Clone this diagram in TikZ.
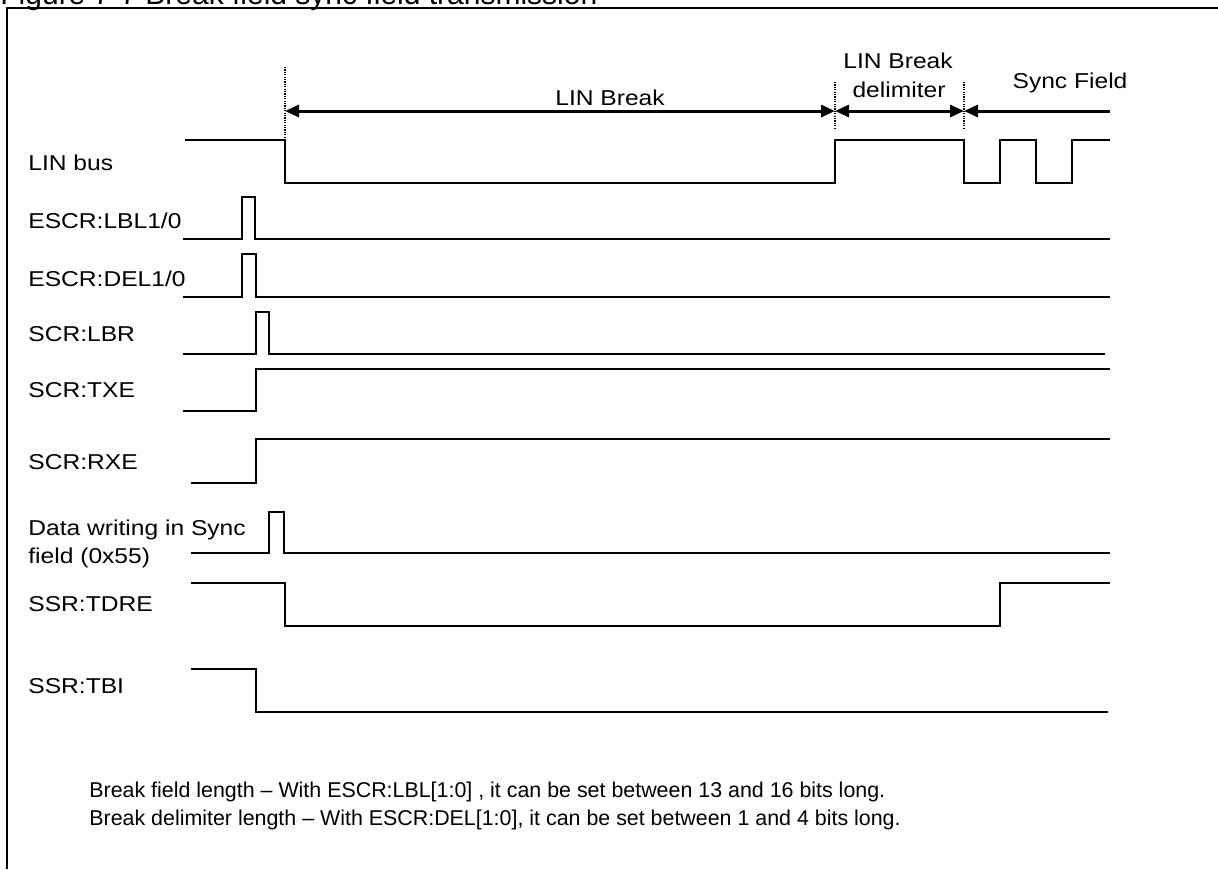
\documentclass[tikz,border=0pt]{standalone}
\usepackage{fontspec}
\setmainfont{Liberation Sans}
\usepackage{graphicx}
\usetikzlibrary{arrows.meta}
\newcommand\wlab[1]{\scalebox{1.144}[1]{#1}}
\begin{document}
\begin{tikzpicture}[x=0.5pt,y=-0.5pt,
  sig/.style={line width=0.75pt, line join=miter},
  frameline/.style={line width=1pt},
  lab/.style={anchor=base west, inner sep=0pt, font=\fontsize{10.75}{14}\selectfont},
  toplab/.style={anchor=base, inner sep=0pt, font=\fontsize{10.75}{14}\selectfont},
  note/.style={anchor=base west, inner sep=0pt, font=\fontsize{10.7}{14}\selectfont},
  dim/.style={line width=1.5pt, >={Triangle[length=7pt,width=6pt]}},
  marker/.style={line width=0.8pt, dash pattern=on 0.6pt off 0.6pt}
]
\useasboundingbox (0,0) rectangle (1218,869);
% title (cut off at the top edge, as in the reference)
\node[anchor=base west, inner sep=0pt, font=\fontsize{15}{18}\selectfont] (title) at (0,4) {Figure 7-7 Break field sync field transmission};
% frame
\coordinate (fbl) at (7,869);
\coordinate (ftl) at (7,8);
\coordinate (ftr) at (1218,8);
\draw[frameline] (fbl) -- (ftl) -- (ftr);

% signal labels
\node[lab] (l1) at (28,170) {\wlab{LIN bus}};
\node[lab] (l2) at (28,228) {\wlab{ESCR:LBL1/0}};
\node[lab] (l3) at (28,286) {\wlab{ESCR:DEL1/0}};
\node[lab] (l4) at (28,341) {\wlab{SCR:LBR}};
\node[lab] (l5) at (28,397) {\wlab{SCR:TXE}};
\node[lab] (l6) at (28,469) {\wlab{SCR:RXE}};
\node[lab] (l7a) at (28,535) {\wlab{Data writing in Sync}};
\node[lab] (l7b) at (28,563) {\wlab{field (0x55)}};
\node[lab] (l8) at (28,611) {\wlab{SSR:TDRE}};
\node[lab] (l9) at (28,693) {\wlab{SSR:TBI}};

% waveforms
\draw[sig] (185,140) -- (285,140) -- (285,183) -- (835,183) -- (835,140) -- (964,140) -- (964,183) -- (1000,183) -- (1000,140) -- (1036,140) -- (1036,183) -- (1072,183) -- (1072,140) -- (1110,140);
\draw[sig] (183,239) -- (242,239) -- (242,197) -- (255,197) -- (255,239) -- (1110,239);
\draw[sig] (183,297) -- (242,297) -- (242,254) -- (256,254) -- (256,297) -- (1110,297);
\draw[sig] (183,354) -- (256,354) -- (256,312) -- (269,312) -- (269,354) -- (1105,354);
\draw[sig] (183,411) -- (256,411) -- (256,369) -- (1110,369);
\draw[sig] (191,483) -- (256,483) -- (256,439) -- (1110,439);
\draw[sig] (191,553) -- (269,553) -- (269,512) -- (284,512) -- (284,553) -- (1110,553);
\draw[sig] (191,583) -- (285,583) -- (285,626) -- (1000,626) -- (1000,583) -- (1110,583);
\draw[sig] (191,669) -- (256,669) -- (256,712) -- (1108,712);

% markers
\coordinate (m1t) at (285,67);  \coordinate (m1b) at (285,138);
\coordinate (m2t) at (835,82);  \coordinate (m2b) at (835,130);
\coordinate (m3t) at (964,82);  \coordinate (m3b) at (964,130);
\draw[marker] (m1t) -- (m1b);
\draw[marker] (m2t) -- (m2b);
\draw[marker] (m3t) -- (m3b);

% dimension arrows
\coordinate (a1) at (285,111);
\coordinate (a2) at (835,111);
\coordinate (a3) at (964,111);
\coordinate (a4) at (1110,111);
\draw[dim,<->] (a1) -- (a2);
\draw[dim,<->] (a2) -- (a3);
\draw[dim,<-] (a3) -- (a4);

\node[toplab] (t1) at (610,105) {\wlab{LIN Break}};
\node[toplab] (t2a) at (898,68) {\wlab{LIN Break}};
\node[toplab] (t2b) at (899,97) {\wlab{delimiter}};
\node[toplab] (t3) at (1070,88) {\wlab{Sync Field}};

% notes
\node[note] (n1) at (89,797) {Break field length – With ESCR:LBL[1:0] , it can be set between 13 and 16 bits long.};
\node[note] (n2) at (89,825) {Break delimiter length – With ESCR:DEL[1:0], it can be set between 1 and 4 bits long.};
\end{tikzpicture}
\end{document}
